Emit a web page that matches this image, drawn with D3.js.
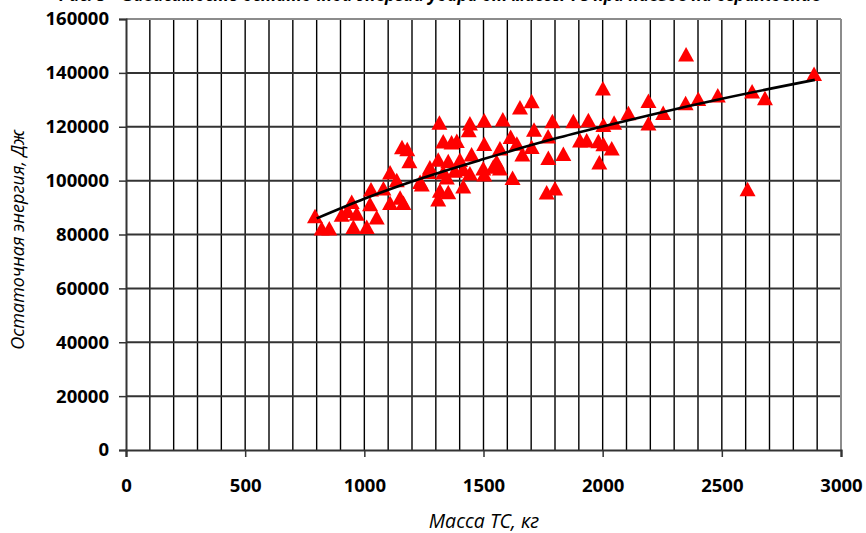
<!DOCTYPE html>
<html><head><meta charset="utf-8">
<script src="https://cdn.jsdelivr.net/npm/d3@7"></script>
<style>body{margin:0;background:#fff;} svg{display:block;}</style>
</head><body>
<script>
const title = "Рис. 5 – Зависимость остаточной энергии удара от массы ТС при наезде на ограждение";
const xLabel = "Масса ТС, кг";
const yLabel = "Остаточная энергия, Дж";
const xTicks = [0, 500, 1000, 1500, 2000, 2500, 3000];
const yTicks = [0, 20000, 40000, 60000, 80000, 100000, 120000, 140000, 160000];
const massKg = [793,821,853,905,930,947,968,954,1010,1052,1024,1028,1080,1108,1136,1108,1150,1164,1158,1180,
  1189,1234,1268,1275,1241,1315,1331,1366,1388,1310,1352,1401,1450,1331,1380,1415,1346,1415,1317,1352,
  1310,1443,1438,1503,1581,1653,1702,1712,1503,1614,1640,1569,1663,1702,1499,1541,1569,1503,1622,1443,
  1555,1771,1789,1877,1940,2001,2192,2254,2108,2192,2048,2003,1905,1933,1982,2003,2038,1772,1835,1986,
  1765,1800,2350,2887,2627,2681,2483,2401,2348,2608];
const energyJ = [86600,82000,82000,87100,88500,91900,87500,82600,82600,86100,91000,96500,96900,102800,100000,91500,93500,91500,112200,111500,
  107000,99300,103000,104700,98400,121300,114300,114000,114500,107600,107000,107500,109500,102800,103500,104000,101000,97600,96100,95500,
  92800,121000,118500,122100,122500,127000,129300,118700,113400,116000,113500,111700,109500,112300,104300,105000,104300,102100,100800,102500,
  106800,116200,121900,121900,122200,134000,129400,124900,124800,121000,121300,120500,114700,114700,114400,113300,111700,108200,109700,106500,
  95400,96900,146600,139400,132900,130400,131400,130100,128500,96600];
const trendMass = [800, 1000, 1200, 1500, 1800, 2000, 2200, 2500, 2890];
const trendEnergy = [86000, 93300, 99700, 108000, 115600, 120100, 124400, 130400, 137400];

const W = 866, H = 533;
const L = 126, R = 841, T = 19, B = 450;
const svg = d3.select("body").append("svg").attr("width", W).attr("height", H);
const x = d3.scaleLinear().domain([0, 3000]).range([L, R]);
const y = d3.scaleLinear().domain([0, 160000]).range([B, T]);

svg.append("text").attr("x", 440).attr("y", 0.5).attr("text-anchor", "middle")
  .style("font-family", "Open Sans").style("font-weight", 700).style("font-style", "italic")
  .style("font-size", "17px").attr("fill", "#000").text(title);

// vertical gridlines every 100
const vg = d3.range(100, 3000, 100);
svg.append("g").selectAll("line").data(vg).join("line")
  .attr("x1", d => x(d)).attr("x2", d => x(d)).attr("y1", T).attr("y2", B)
  .attr("stroke", "#000").attr("stroke-width", 1.4);
// horizontal gridlines
svg.append("g").selectAll("line").data(yTicks.filter(d => d > 0 && d < 160000)).join("line")
  .attr("x1", L).attr("x2", R).attr("y1", d => y(d)).attr("y2", d => y(d))
  .attr("stroke", "#333").attr("stroke-width", 2);
// border top/right
svg.append("line").attr("x1", L).attr("x2", R).attr("y1", T).attr("y2", T).attr("stroke", "#8c8c8c").attr("stroke-width", 2);
svg.append("line").attr("x1", R).attr("x2", R).attr("y1", T).attr("y2", B).attr("stroke", "#8c8c8c").attr("stroke-width", 2);

const tickFont = g => g.selectAll("text").style("font-family", "Open Sans").style("font-weight", 700)
  .style("font-size", "18.5px").attr("fill", "#000");

const xAxis = svg.append("g").attr("transform", `translate(0,${B})`)
  .call(d3.axisBottom(x).tickValues(xTicks).tickFormat(d3.format("d")).tickSize(7).tickPadding(22));
xAxis.select(".domain").attr("stroke", "#333").attr("stroke-width", 2.2);
xAxis.selectAll(".tick line").attr("stroke", "#333").attr("stroke-width", 1.5);
xAxis.call(tickFont);

const yAxis = svg.append("g").attr("transform", `translate(${L},0)`)
  .call(d3.axisLeft(y).tickValues(yTicks).tickFormat(d3.format("d")).tickSize(7).tickPadding(10));
yAxis.select(".domain").attr("stroke", "#333").attr("stroke-width", 2);
yAxis.selectAll(".tick line").attr("stroke", "#333").attr("stroke-width", 1.5);
yAxis.call(tickFont);

// points
const tri = "M0,-8L8,6.5L-8,6.5Z";
svg.append("g").selectAll("path").data(massKg.map((m, i) => [m, energyJ[i]])).join("path")
  .attr("d", tri).attr("transform", d => `translate(${x(d[0])},${y(d[1])})`)
  .attr("fill", "#ff0000");

// trend
const line = d3.line().x(d => x(d[0])).y(d => y(d[1])).curve(d3.curveMonotoneX);
svg.append("path").datum(trendMass.map((m, i) => [m, trendEnergy[i]]))
  .attr("d", line).attr("fill", "none").attr("stroke", "#000").attr("stroke-width", 2.6);

svg.append("text").attr("x", 484).attr("y", 528).attr("text-anchor", "middle")
  .style("font-family", "Open Sans").style("font-style", "italic").style("font-size", "19.5px")
  .text(xLabel);
svg.append("text").attr("transform", "translate(24,240) rotate(-90)").attr("text-anchor", "middle")
  .style("font-family", "Open Sans").style("font-style", "italic").style("font-size", "18px")
  .text(yLabel);
</script>
</body></html>
